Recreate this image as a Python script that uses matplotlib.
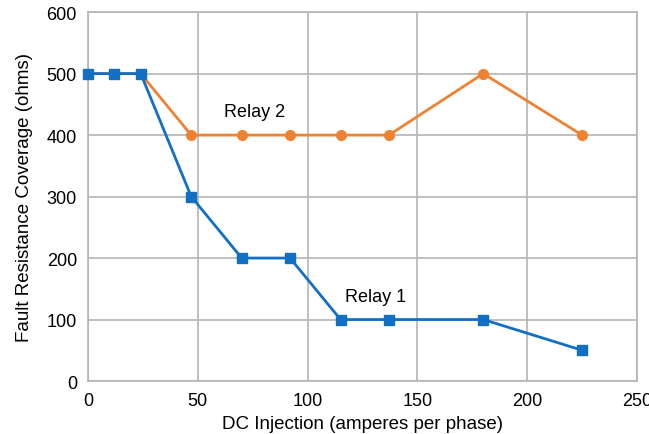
import matplotlib
matplotlib.use("Agg")
import matplotlib.pyplot as plt

x_dc = [0, 12, 24, 47, 70, 92, 115, 137, 180, 225]
relay1 = [500, 500, 500, 300, 200, 200, 100, 100, 100, 50]
relay2 = [500, 500, 500, 400, 400, 400, 400, 400, 500, 400]

BLUE = "#1170c4"
ORANGE = "#ef8232"
GRID = "#b4b4b4"

plt.rcParams["font.family"] = ["Liberation Sans", "DejaVu Sans"]

fig = plt.figure(figsize=(6.49, 4.35), dpi=100)
ax = fig.add_axes([0.1356, 0.1218, 0.846, 0.848])

ax.plot(x_dc, relay2, "-o", color=ORANGE, lw=2, ms=7, clip_on=False, zorder=3)
ax.plot(x_dc, relay1, "-s", color=BLUE, lw=2, ms=7.5, clip_on=False, zorder=4)

ax.text(62, 438, "Relay 2", fontsize=13, va="center", ha="left")
ax.text(117, 137, "Relay 1", fontsize=13, va="center", ha="left")

ax.set_xlim(0, 250)
ax.set_ylim(0, 600)
ax.set_xticks(range(0, 251, 50))
ax.set_yticks(range(0, 601, 100))
ax.grid(True, color=GRID, lw=1.2)
ax.set_axisbelow(True)
for s in ax.spines.values():
    s.set_color(GRID)
    s.set_linewidth(1.2)
ax.tick_params(length=0, labelsize=13, pad=8)
ax.set_xlabel("DC Injection (amperes per phase)", fontsize=13.5, labelpad=4)
ax.set_ylabel("Fault Resistance Coverage (ohms)", fontsize=13.5, labelpad=10)

fig.savefig("out.png", dpi=100)
